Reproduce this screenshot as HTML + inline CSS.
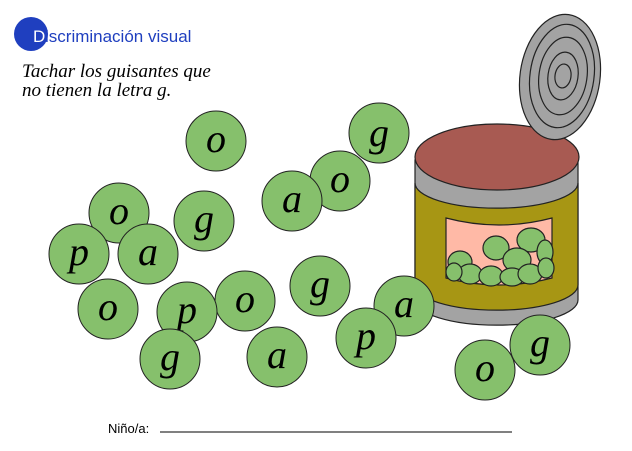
<!DOCTYPE html>
<html><head><meta charset="utf-8"><style>
html,body{margin:0;padding:0;background:#fff;}
body{width:632px;height:446px;overflow:hidden;position:relative;}
</style></head><body>
<svg width="632" height="446" viewBox="0 0 632 446" xmlns="http://www.w3.org/2000/svg">
<circle cx="31" cy="34" r="17" fill="#1f3fbf"/>
<text x="33" y="42" font-family="Liberation Sans, sans-serif" font-size="17" fill="#fff">D</text>
<text x="45" y="42" font-family="Liberation Sans, sans-serif" font-size="17" fill="#1f3fbf">iscriminación visual</text>
<text x="22" y="77" font-family="Liberation Serif, serif" font-style="italic" font-size="19" fill="#000">Tachar los guisantes que</text>
<text x="22" y="96" font-family="Liberation Serif, serif" font-style="italic" font-size="19" fill="#000">no tienen la letra g.</text>

<!-- can -->
<g stroke="#222" stroke-width="1.2">
<path d="M415 160 L415 300 A81 25 0 0 0 578 300 L578 160 Z" fill="#a3a3a3"/>
<path d="M415 183 L415 285 A81 25 0 0 0 578 285 L578 183 A81 25 0 0 1 415 183 Z" fill="#a79614"/>
<ellipse cx="497" cy="157" rx="82" ry="33" fill="#a85a52"/>
<path d="M446 218 Q499 232 552 218 L552 278 Q499 292 446 278 Z" fill="#ffb9a6"/>
<g fill="#86c06c">
<ellipse cx="496" cy="248" rx="13" ry="12"/>
<ellipse cx="531" cy="240" rx="14" ry="12"/>
<ellipse cx="545" cy="252" rx="8" ry="12"/>
<ellipse cx="460" cy="262" rx="12" ry="11"/>
<ellipse cx="517" cy="260" rx="14" ry="12"/>
<ellipse cx="470" cy="274" rx="12" ry="10"/>
<ellipse cx="491" cy="276" rx="12" ry="10"/>
<ellipse cx="512" cy="277" rx="12" ry="9"/>
<ellipse cx="530" cy="274" rx="12" ry="10"/>
<ellipse cx="546" cy="268" rx="8" ry="10"/>
<ellipse cx="454" cy="272" rx="8" ry="9"/>
</g>
<ellipse cx="560" cy="77" rx="40" ry="63" fill="#a3a3a3" transform="rotate(8 560 77)"/>
<g fill="none">
<ellipse cx="562" cy="76" rx="32" ry="52" transform="rotate(8 562 76)"/>
<ellipse cx="563" cy="76" rx="24" ry="39" transform="rotate(8 563 76)"/>
<ellipse cx="563" cy="76" rx="15" ry="24" transform="rotate(8 563 76)"/>
<ellipse cx="563" cy="76" rx="8" ry="12" transform="rotate(8 563 76)"/>
</g>
</g>

<g font-family="Liberation Serif, serif" font-style="italic" font-size="40" text-anchor="middle" fill="#000">
<g><circle cx="216" cy="141" r="30" fill="#86c06c" stroke="#222"/><text x="216" y="152">o</text></g>
<g><circle cx="379" cy="133" r="30" fill="#86c06c" stroke="#222"/><text x="379" y="146">g</text></g>
<g><circle cx="340" cy="181" r="30" fill="#86c06c" stroke="#222"/><text x="340" y="192">o</text></g>
<g><circle cx="292" cy="201" r="30" fill="#86c06c" stroke="#222"/><text x="292" y="212">a</text></g>
<g><circle cx="119" cy="213" r="30" fill="#86c06c" stroke="#222"/><text x="119" y="224">o</text></g>
<g><circle cx="204" cy="221" r="30" fill="#86c06c" stroke="#222"/><text x="204" y="232">g</text></g>
<g><circle cx="79" cy="254" r="30" fill="#86c06c" stroke="#222"/><text x="79" y="265">p</text></g>
<g><circle cx="148" cy="254" r="30" fill="#86c06c" stroke="#222"/><text x="148" y="265">a</text></g>
<g><circle cx="320" cy="286" r="30" fill="#86c06c" stroke="#222"/><text x="320" y="297">g</text></g>
<g><circle cx="108" cy="309" r="30" fill="#86c06c" stroke="#222"/><text x="108" y="320">o</text></g>
<g><circle cx="245" cy="301" r="30" fill="#86c06c" stroke="#222"/><text x="245" y="312">o</text></g>
<g><circle cx="187" cy="312" r="30" fill="#86c06c" stroke="#222"/><text x="187" y="323">p</text></g>
<g><circle cx="404" cy="306" r="30" fill="#86c06c" stroke="#222"/><text x="404" y="317">a</text></g>
<g><circle cx="366" cy="338" r="30" fill="#86c06c" stroke="#222"/><text x="366" y="349">p</text></g>
<g><circle cx="170" cy="359" r="30" fill="#86c06c" stroke="#222"/><text x="170" y="370">g</text></g>
<g><circle cx="277" cy="357" r="30" fill="#86c06c" stroke="#222"/><text x="277" y="368">a</text></g>
<g><circle cx="485" cy="370" r="30" fill="#86c06c" stroke="#222"/><text x="485" y="381">o</text></g>
<g><circle cx="540" cy="345" r="30" fill="#86c06c" stroke="#222"/><text x="540" y="356">g</text></g>
</g>

<text x="108" y="433" font-family="Liberation Sans, sans-serif" font-size="13" fill="#000">Niño/a:</text>
<line x1="160" y1="432" x2="512" y2="432" stroke="#000" stroke-width="1"/>
</svg>
</body></html>
